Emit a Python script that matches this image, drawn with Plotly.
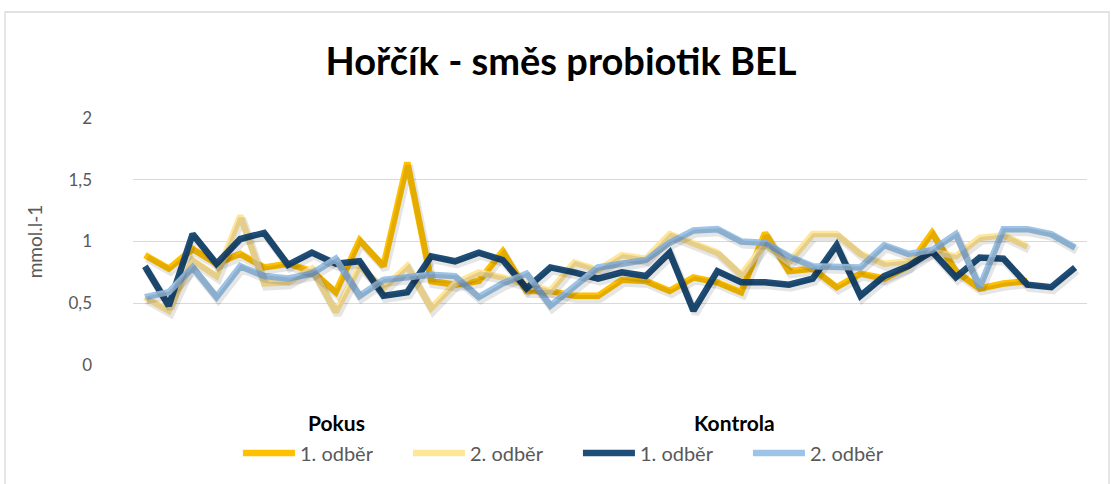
import plotly.graph_objects as go

# Magnesium concentration (mmol/l) per animal, probiotic mix BEL
pokus_1 = [0.89, 0.78, 0.94, 0.82, 0.90, 0.79, 0.82, 0.76, 0.59, 1.01,
           0.80, 1.64, 0.68, 0.65, 0.68, 0.92, 0.60, 0.60, 0.56, 0.56,
           0.69, 0.68, 0.60, 0.71, 0.67, 0.59, 1.07, 0.76, 0.78, 0.63,
           0.74, 0.70, 0.80, 1.07, 0.76, 0.62, 0.66, 0.68]
pokus_2 = [0.55, 0.44, 0.85, 0.72, 1.21, 0.66, 0.67, 0.78, 0.43, 0.80,
           0.62, 0.80, 0.46, 0.66, 0.75, 0.71, 0.65, 0.60, 0.83, 0.77,
           0.89, 0.86, 1.06, 0.98, 0.91, 0.73, 0.98, 0.83, 1.06, 1.06,
           0.90, 0.82, 0.84, 0.92, 0.88, 1.03, 1.05, 0.96]
kontrola_1 = [0.80, 0.48, 1.06, 0.82, 1.02, 1.07, 0.81, 0.91, 0.82, 0.84,
              0.56, 0.59, 0.88, 0.84, 0.91, 0.85, 0.62, 0.79, 0.75, 0.70,
              0.75, 0.72, 0.91, 0.44, 0.76, 0.67, 0.67, 0.65, 0.70, 0.97,
              0.56, 0.72, 0.80, 0.92, 0.71, 0.87, 0.86, 0.65, 0.63, 0.79]
kontrola_2 = [0.55, 0.59, 0.79, 0.55, 0.80, 0.72, 0.70, 0.74, 0.86, 0.56,
              0.69, 0.71, 0.73, 0.72, 0.55, 0.66, 0.74, 0.48, 0.63, 0.79,
              0.82, 0.85, 0.99, 1.09, 1.10, 1.00, 0.99, 0.88, 0.80, 0.79,
              0.79, 0.97, 0.90, 0.93, 1.06, 0.63, 1.10, 1.10, 1.06, 0.95]

series_names = ["1. odběr", "2. odběr", "1. odběr", "2. odběr"]
group_names = ["Pokus", "Kontrola"]
y_ticks = [0, 0.5, 1, 1.5, 2]

series = [pokus_1, pokus_2, kontrola_1, kontrola_2]
colors = ["#FFC000", "#FFE699", "#1F4E79", "#9DC3E6"]
groups = [group_names[0], group_names[0], group_names[1], group_names[1]]

FONT = "Lato"
GRAY = "#595959"

fig = go.Figure()
for vals, name, color, grp in zip(series, series_names, colors, groups):
    x = list(range(len(vals)))
    # soft drop shadow drawn on a slightly offset overlay axis pair
    fig.add_trace(go.Scatter(
        x=x, y=vals, mode="lines", xaxis="x2", yaxis="y2",
        line=dict(color="rgba(0,0,0,0.10)", width=8),
        hoverinfo="skip", showlegend=False))
    fig.add_trace(go.Scatter(
        x=x, y=vals, mode="lines", name=name, legendgroup=grp,
        line=dict(color=color, width=6.5)))

n_max = max(len(s) for s in series)
xr = [-0.5, n_max - 0.5]

fig.update_layout(
    width=1111, height=484,
    margin=dict(l=133, r=24, t=118, b=119),
    paper_bgcolor="white", plot_bgcolor="white",
    separators=", ",
    font=dict(family=FONT, color=GRAY, size=15),
    title=dict(text="<b>Hořčík - směs probiotik BEL</b>",
               font=dict(family=FONT, size=38, color="#000000"),
               x=0.505, xref="container", xanchor="center",
               y=1 - 62 / 484, yref="container", yanchor="middle"),
    xaxis=dict(range=xr, showticklabels=False, showgrid=False,
               zeroline=False, showline=False),
    xaxis2=dict(range=[xr[0] - 0.08, xr[1] - 0.08], overlaying="x",
                visible=False),
    yaxis=dict(range=[0, 2], tickvals=y_ticks, showgrid=True,
               gridcolor="#D9D9D9", gridwidth=1.3, zeroline=False,
               showline=False, ticklabelstandoff=40,
               tickfont=dict(size=17, color=GRAY),
               title=dict(text="mmol.l-1", standoff=20,
                          font=dict(size=19, color=GRAY))),
    yaxis2=dict(range=[0.025, 2.025], overlaying="y", visible=False),
    showlegend=True,
    legend=dict(orientation="h", x=0.11, xanchor="left",
                y=-0.356, yanchor="middle",
                itemwidth=52,
                entrywidth=103, entrywidthmode="pixels",
                font=dict(size=20, color=GRAY),
                traceorder="normal", tracegroupgap=0),
)

# group headings above the legend entries
for label, xp in zip(group_names, [(336 - 133) / 954, (734 - 133) / 954]):
    fig.add_annotation(text=f"<b>{label}</b>", x=xp, y=-0.2308,
                       xref="paper", yref="paper", showarrow=False,
                       xanchor="center", yanchor="middle",
                       font=dict(family=FONT, size=21, color="#000000"))

# chart frame
fig.add_shape(type="rect", xref="paper", yref="paper",
              x0=(5 - 133) / 954, x1=(1109 - 133) / 954,
              y0=(365 - 490) / 247, y1=(365 - 12) / 247,
              line=dict(color="#D9D9D9", width=1.3), layer="below")

fig.write_html("out.html")
